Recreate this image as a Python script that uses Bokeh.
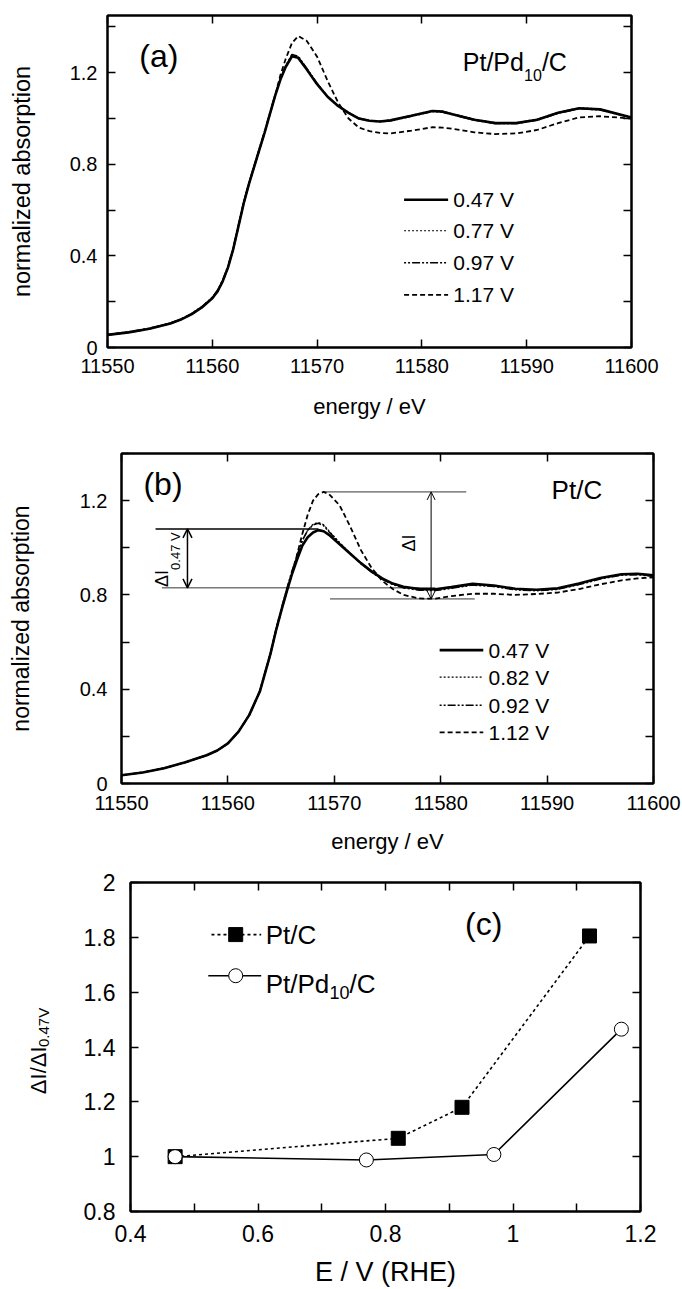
import math
from bokeh.plotting import figure
from bokeh.models import Range1d, FixedTicker, LinearAxis, Label, Arrow, OpenHead
from bokeh.layouts import row
from bokeh.embed import file_html
from bokeh.resources import INLINE

FONT = "Liberation Sans"

# ---------------- data: panel (a) Pt/Pd10/C ----------------
energy_a = [11550, 11552, 11554, 11556, 11557, 11558, 11559, 11560, 11560.5, 11561,
            11561.5, 11562, 11562.5, 11563, 11563.5, 11564, 11564.5, 11565, 11565.5, 11566,
            11566.5, 11567, 11567.6, 11568.2, 11569, 11570, 11571, 11572, 11573, 11574,
            11575, 11576, 11577, 11579, 11581, 11582, 11583, 11585, 11587, 11589,
            11591, 11593, 11595, 11597, 11600]
pd_047 = [0.055, 0.066, 0.082, 0.105, 0.122, 0.145, 0.175, 0.215, 0.245, 0.29,
          0.35, 0.43, 0.53, 0.63, 0.715, 0.79, 0.865, 0.94, 1.02, 1.10,
          1.17, 1.225, 1.272, 1.265, 1.215, 1.15, 1.095, 1.055, 1.025, 1.0,
          0.99, 0.987, 0.992, 1.012, 1.033, 1.03, 1.018, 0.995, 0.98, 0.98,
          0.995, 1.025, 1.045, 1.04, 1.005]
pd_077 = [0.056, 0.067, 0.083, 0.106, 0.123, 0.146, 0.176, 0.217, 0.247, 0.292,
          0.352, 0.432, 0.532, 0.632, 0.717, 0.792, 0.867, 0.942, 1.022, 1.102,
          1.172, 1.228, 1.276, 1.268, 1.218, 1.152, 1.097, 1.057, 1.027, 1.002,
          0.992, 0.989, 0.994, 1.014, 1.035, 1.032, 1.02, 0.997, 0.982, 0.982,
          0.997, 1.027, 1.047, 1.042, 1.007]
pd_097 = [0.057, 0.068, 0.084, 0.107, 0.124, 0.148, 0.178, 0.219, 0.25, 0.296,
          0.356, 0.436, 0.536, 0.636, 0.72, 0.795, 0.87, 0.945, 1.025, 1.105,
          1.175, 1.23, 1.28, 1.272, 1.22, 1.153, 1.096, 1.055, 1.024, 0.999,
          0.989, 0.986, 0.99, 1.01, 1.031, 1.028, 1.016, 0.993, 0.978, 0.978,
          0.993, 1.023, 1.043, 1.038, 1.004]
pd_117 = [0.055, 0.066, 0.082, 0.105, 0.122, 0.145, 0.175, 0.215, 0.245, 0.29,
          0.35, 0.43, 0.53, 0.63, 0.715, 0.79, 0.865, 0.94, 1.02, 1.10,
          1.19, 1.26, 1.33, 1.36, 1.34, 1.27, 1.165, 1.07, 1.0, 0.96,
          0.945, 0.937, 0.935, 0.947, 0.962, 0.96, 0.955, 0.94, 0.932, 0.935,
          0.95, 0.98, 1.005, 1.01, 1.0]

# ---------------- data: panel (b) Pt/C ----------------
energy_b = [11550, 11552, 11554, 11556, 11558, 11559, 11560, 11561, 11562, 11563,
            11564, 11564.5, 11565, 11565.5, 11566, 11566.5, 11567, 11567.5, 11568, 11568.5,
            11569, 11569.5, 11570.5, 11571.5, 11572.5, 11573.5, 11574.5, 11575.5, 11576.5, 11578,
            11579.5, 11581, 11583, 11585, 11587, 11589, 11591, 11593, 11595, 11597,
            11598.5, 11600]
pt_047 = [0.035, 0.047, 0.065, 0.09, 0.12, 0.14, 0.17, 0.22, 0.29, 0.39,
          0.55, 0.645, 0.73, 0.81, 0.885, 0.95, 1.01, 1.045, 1.065, 1.075,
          1.07, 1.055, 1.015, 0.975, 0.935, 0.9, 0.87, 0.848, 0.835, 0.825,
          0.824, 0.833, 0.847, 0.84, 0.826, 0.822, 0.828, 0.848, 0.872, 0.888,
          0.89, 0.883]
pt_082 = [0.035, 0.047, 0.065, 0.09, 0.12, 0.14, 0.17, 0.22, 0.29, 0.39,
          0.55, 0.648, 0.735, 0.818, 0.895, 0.965, 1.03, 1.075, 1.1, 1.108,
          1.098, 1.072, 1.022, 0.977, 0.935, 0.899, 0.868, 0.846, 0.832, 0.822,
          0.821, 0.83, 0.844, 0.838, 0.824, 0.82, 0.826, 0.846, 0.87, 0.886,
          0.888, 0.881]
pt_092 = [0.035, 0.047, 0.065, 0.09, 0.12, 0.14, 0.17, 0.22, 0.29, 0.392,
          0.553, 0.65, 0.738, 0.82, 0.898, 0.968, 1.032, 1.074, 1.097, 1.104,
          1.094, 1.068, 1.02, 0.975, 0.933, 0.897, 0.866, 0.844, 0.83, 0.82,
          0.819, 0.828, 0.842, 0.836, 0.822, 0.818, 0.824, 0.844, 0.868, 0.884,
          0.886, 0.879]
pt_112 = [0.035, 0.047, 0.065, 0.09, 0.12, 0.14, 0.17, 0.22, 0.29, 0.39,
          0.55, 0.645, 0.73, 0.81, 0.89, 0.97, 1.06, 1.14, 1.2, 1.228,
          1.237, 1.228, 1.18, 1.09, 0.99, 0.915, 0.86, 0.825, 0.80, 0.785,
          0.784, 0.795, 0.805, 0.805, 0.80, 0.804, 0.81, 0.825, 0.845, 0.862,
          0.87, 0.875]

# annotation levels in panel (b)
dI047_top, dI047_base = 1.08, 0.83
dI_top, dI_base = 1.237, 0.783

# ---------------- data: panel (c) ----------------
pot_ptc = [0.47, 0.82, 0.92, 1.12]
ratio_ptc = [1.0, 1.067, 1.18, 1.805]
pot_ptpd = [0.47, 0.77, 0.97, 1.17]
ratio_ptpd = [1.0, 0.988, 1.008, 1.465]

legend_a = ["0.47 V", "0.77 V", "0.97 V", "1.17 V"]
legend_b = ["0.47 V", "0.82 V", "0.92 V", "1.12 V"]

x_ticks_e = [11550, 11560, 11570, 11580, 11590, 11600]
y_ticks_abs = [0, 0.2, 0.4, 0.6, 0.8, 1.0, 1.2, 1.4]
y_labels_abs = ["0", "", "0.4", "", "0.8", "", "1.2", ""]
x_ticks_c = [0.4, 0.5, 0.6, 0.7, 0.8, 0.9, 1.0, 1.1, 1.2]
x_labels_c = ["0.4", "", "0.6", "", "0.8", "", "1", "", "1.2"]
y_ticks_c = [0.8, 1.0, 1.2, 1.4, 1.6, 1.8, 2.0]
y_labels_c = ["0.8", "1", "1.2", "1.4", "1.6", "1.8", "2"]

# ---------------- styles ----------------
STY = [dict(line_width=2.6, line_dash="solid"),
       dict(line_width=1.2, line_dash="2 2"),
       dict(line_width=1.6, line_dash="2 2 2 2 8 2"),
       dict(line_width=1.8, line_dash="5 3")]


def make_fig(width, height, left, right, top, bottom, xr, yr):
    p = figure(width=width, height=height, x_range=Range1d(*xr), y_range=Range1d(*yr),
               output_backend="svg", toolbar_location=None,
               min_border_left=left, min_border_right=right,
               min_border_top=top, min_border_bottom=bottom)
    p.xgrid.visible = False
    p.ygrid.visible = False
    p.outline_line_color = "black"
    p.outline_line_width = 2
    p.background_fill_color = "white"
    p.border_fill_color = "white"
    return p


def style_axis(ax, ticks, labels, size, standoff, label=None, lsize=None, lstandoff=None):
    ax.ticker = FixedTicker(ticks=ticks)
    if labels is not None:
        ax.major_label_overrides = {t: l for t, l in zip(ticks, labels)}
    ax.major_tick_in = 8
    ax.major_tick_out = 0
    ax.minor_tick_in = 0
    ax.minor_tick_out = 0
    ax.major_tick_line_width = 1.5
    ax.major_tick_line_color = "black"
    ax.axis_line_width = 2
    ax.axis_line_color = "black"
    ax.major_label_text_font = FONT
    ax.major_label_text_font_size = f"{size}px"
    ax.major_label_text_color = "black"
    ax.major_label_standoff = standoff
    if label is not None:
        ax.axis_label = label
        ax.axis_label_text_font = FONT
        ax.axis_label_text_font_style = "normal"
        ax.axis_label_text_font_size = f"{lsize}px"
        ax.axis_label_text_color = "black"
        ax.axis_label_standoff = lstandoff


def mirror(p, ticks, side):
    ax = LinearAxis(ticker=FixedTicker(ticks=ticks))
    ax.major_label_text_font_size = "1px"
    ax.major_label_text_color = None
    ax.major_label_standoff = 0
    ax.major_tick_in = 8
    ax.major_tick_out = 0
    ax.minor_tick_in = 0
    ax.minor_tick_out = 0
    ax.major_tick_line_width = 1.5
    ax.axis_line_width = 2
    ax.axis_line_color = "black"
    p.add_layout(ax, side)


def label(p, x, y, text, size, align="left", baseline="middle", angle=0.0):
    p.add_layout(Label(x=x, y=y, text=text, text_font=FONT, text_font_size=f"{size}px",
                       text_align=align, text_baseline=baseline, angle=angle,
                       text_color="black"))


# ================= panel (a) =================
pa = make_fig(682, 425, 107, 51, 15, 78, (11550, 11600), (0, 1.45))
style_axis(pa.xaxis[0], x_ticks_e, None, 20, 11, "energy / eV", 22, 18)
style_axis(pa.yaxis[0], y_ticks_abs, y_labels_abs, 20, 10, "normalized absorption", 23.5, 32)
mirror(pa, x_ticks_e, "above")
mirror(pa, y_ticks_abs, "right")
for ys, st in zip([pd_077, pd_097, pd_117, pd_047], [STY[1], STY[2], STY[3], STY[0]]):
    pa.line(energy_a, ys, line_color="black", **st)
leg_y_a = [0.645, 0.51, 0.37, 0.23]
for txt, yy, st in zip(legend_a, leg_y_a, STY):
    pa.line([11578.3, 11582.5], [yy, yy], line_color="black", **st)
    label(pa, 11583.0, yy, txt, 21)
label(pa, 11554.9, 1.275, "(a)", 32, align="center")
label(pa, 11583.9, 1.248, "Pt/Pd", 25, baseline="alphabetic")
label(pa, 11589.75, 1.19, "10", 16, baseline="alphabetic")
label(pa, 11591.45, 1.248, "/C", 25, baseline="alphabetic")

# ================= panel (b) =================
pb = make_fig(682, 437, 121, 29, 28, 79, (11550, 11600), (0, 1.4))
style_axis(pb.xaxis[0], x_ticks_e, None, 20, 12, "energy / eV", 22, 16)
style_axis(pb.yaxis[0], y_ticks_abs, y_labels_abs, 20, 14, "normalized absorption", 23, 43)
mirror(pb, x_ticks_e, "above")
mirror(pb, y_ticks_abs, "right")
for ys, st in zip([pt_082, pt_092, pt_112, pt_047], [STY[1], STY[2], STY[3], STY[0]]):
    pb.line(energy_b, ys, line_color="black", **st)
leg_y_b = [0.566, 0.451, 0.332, 0.217]
for txt, yy, st in zip(legend_b, leg_y_b, STY):
    pb.line([11579.9, 11584.0], [yy, yy], line_color="black", **st)
    label(pb, 11584.5, yy, txt, 21)
label(pb, 11553.9, 1.272, "(b)", 32, align="center")
label(pb, 11592.8, 1.247, "Pt/C", 26, align="center")
# Delta I (0.47 V) annotation
pb.line([11553.2, 11568.5], [dI047_top, dI047_top], line_color="black", line_width=1.6)
pb.line([11553.8, 11579.5], [dI047_base, dI047_base], line_color="black", line_width=0.8)
pb.add_layout(Arrow(start=OpenHead(size=9, line_width=1.5), end=OpenHead(size=9, line_width=1.5),
                    x_start=11556.2, y_start=dI047_base, x_end=11556.2, y_end=dI047_top,
                    line_width=1.5))
label(pb, 11553.85, 0.834, "\u0394I", 18, baseline="alphabetic", angle=math.pi / 2)
label(pb, 11555.1, 0.906, "0.47 V", 13, baseline="alphabetic", angle=math.pi / 2)
# Delta I annotation
pb.line([11569.0, 11582.4], [dI_top, dI_top], line_color="black", line_width=0.8)
pb.line([11569.6, 11583.2], [dI_base, dI_base], line_color="black", line_width=0.8)
pb.add_layout(Arrow(start=OpenHead(size=8, line_width=1), end=OpenHead(size=8, line_width=1),
                    x_start=11579.1, y_start=dI_base, x_end=11579.1, y_end=dI_top,
                    line_width=1))
label(pb, 11577.0, 1.02, "\u0394I", 18, align="center", angle=math.pi / 2)

# ================= panel (c) =================
# narrow figure that carries the rotated y-axis title with its subscript
py = figure(width=60, height=427, x_range=Range1d(0, 60), y_range=Range1d(0.8, 2.0),
            output_backend="svg", toolbar_location=None,
            min_border_left=0, min_border_right=0, min_border_top=20, min_border_bottom=73)
py.axis.visible = False
py.xgrid.visible = False
py.ygrid.visible = False
py.outline_line_color = None
label(py, 38, 1.228, "\u0394I/\u0394I", 22, baseline="alphabetic", angle=math.pi / 2)
label(py, 43, 1.40, "0.47V", 15, baseline="alphabetic", angle=math.pi / 2)

pc = make_fig(622, 427, 70, 42, 20, 73, (0.4, 1.2), (0.8, 2.0))
style_axis(pc.xaxis[0], x_ticks_c, x_labels_c, 23, 13, "E / V (RHE)", 27, 12)
style_axis(pc.yaxis[0], y_ticks_c, y_labels_c, 23, 15)
mirror(pc, x_ticks_c, "above")
mirror(pc, y_ticks_c, "right")
pc.line(pot_ptc, ratio_ptc, line_color="black", line_width=1.6, line_dash="3 3")
pc.line(pot_ptpd, ratio_ptpd, line_color="black", line_width=1.6)
pc.scatter(pot_ptc, ratio_ptc, marker="square", size=14, fill_color="black", line_color="black")
pc.scatter(pot_ptpd, ratio_ptpd, marker="circle", size=14, fill_color="white", line_color="black",
           line_width=1)
# legend
pc.line([0.527, 0.605], [1.81, 1.81], line_color="black", line_width=1.6, line_dash="3 3")
pc.scatter([0.565], [1.81], marker="square", size=14, fill_color="black", line_color="black")
pc.line([0.522, 0.605], [1.66, 1.66], line_color="black", line_width=1.6)
pc.scatter([0.565], [1.66], marker="circle", size=14, fill_color="white", line_color="black")
label(pc, 0.612, 1.81, "Pt/C", 26)
label(pc, 0.612, 1.628, "Pt/Pd", 26, baseline="alphabetic")
label(pc, 0.712, 1.598, "10", 18, baseline="alphabetic")
label(pc, 0.7435, 1.628, "/C", 26, baseline="alphabetic")
label(pc, 0.954, 1.85, "(c)", 32, align="center")

open("out.html", "w").write(file_html([pa, pb, row(py, pc)], INLINE))
